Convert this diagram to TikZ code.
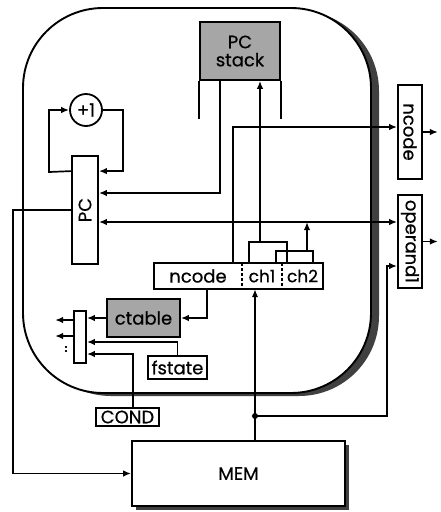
\documentclass[tikz,border=0pt]{standalone}
\usepackage{fontspec}
\usepackage{graphicx}
\setmainfont{Poppins}[FakeBold=0.6]
\usetikzlibrary{arrows.meta}

\tikzset{
  blk/.style={draw, line width=1.8pt, inner sep=0pt, font=\fontsize{18}{19}\selectfont},
  shaded/.style={blk, fill=black!35},
  field/.style={inner sep=0pt, minimum height=26, font=\fontsize{18}{19}\selectfont},
  wire/.style={line width=1.7pt},
  arr/.style={wire, -{Latex[length=8pt,width=6.5pt]}},
  darr/.style={wire, {Latex[length=8pt,width=6.5pt]}-{Latex[length=8pt,width=6.5pt]}},
}

\begin{document}
\begin{tikzpicture}[x=1pt,y=-1pt]
\useasboundingbox (0,0) rectangle (441,512);

% outer chip with shadow
\fill[black!75, rounded corners=80pt] (31,11) rectangle (379,396);
\draw[line width=1.9pt, fill=white, rounded corners=80pt] (23,8) rectangle (371,393);

% blocks
\node[shaded, minimum width=80, minimum height=58, align=center] (pcstack) at (240,51) {PC\\[-1pt]stack};
\node[blk, circle, minimum size=32] (plusone) at (86,110) {+1};
\node[blk, minimum width=26, minimum height=108] (pc) at (85,210) {\rotatebox{90}{PC}};

\node[field, minimum width=88] (ncf) at (198,276) {ncode};
\node[field, minimum width=40, font=\fontsize{17}{18}\selectfont] (ch1f) at (262,276) {ch1};
\node[field, minimum width=41, font=\fontsize{17}{18}\selectfont] (ch2f) at (302.5,276) {ch2};
\draw[wire] (ncf.north west) rectangle (ch2f.south east);
\draw[wire, dashed, dash pattern=on 3pt off 2pt] (ncf.north east) -- (ncf.south east);
\draw[wire, dashed, dash pattern=on 3pt off 2pt] (ch1f.north east) -- (ch1f.south east);

\node[shaded, minimum width=73, minimum height=38] (ctable) at (143.5,318) {ctable};
\node[blk, minimum width=12, minimum height=52] (mux) at (80,337) {};
\node[blk, minimum width=59, minimum height=23] (fstate) at (177.5,367.5) {fstate};
\node[blk, minimum width=63, minimum height=18] (cond) at (127.5,417) {COND};

\fill[black!75] (136,445) rectangle (349,510);
\node[blk, fill=white, minimum width=213, minimum height=65] (mem) at (238.5,473.5) {MEM};

\node[blk, minimum width=24, minimum height=94] (outncode) at (410,132) {\rotatebox{-90}{ncode}};
\node[blk, minimum width=24, minimum height=93] (outop) at (410,241.5) {\rotatebox{-90}{operand1}};

% PC and incrementer
\draw[arr] ([yshift=-16pt]pc.north west) -- (49,172) |- (plusone.west);
\draw[arr] (plusone.east) -- (123,110) |- ([yshift=-16pt]pc.north east);

% PC stack
\draw[wire] (pcstack.south west) -- ++(0,38);
\draw[wire] (pcstack.south east) -- ++(0,38);
\draw[arr] ([xshift=-20pt]pcstack.south) |- ([yshift=17pt]pc.east);

% channel fields
\coordinate (ch1top) at (260,242);
\coordinate (ch2top) at (307,251);
\draw[wire] ([xshift=7pt]ch1f.north west) -- ++(0,-21) -- ++(38,0) -- ++(0,21);
\draw[wire] ([xshift=-6pt]ch2f.north west) -- ++(0,-12) -- ++(37,0) -- ++(0,12);
\draw[arr] (ch1top) -- ([xshift=20pt]pcstack.south);
\draw[arr] (ch2top) -- (307,222);

% operand and ncode outputs
\draw[darr] ([yshift=-12pt]pc.east) -- ([yshift=19.5pt]outop.west);
\draw[arr] ([xshift=-9pt]ncf.north east) |- ([yshift=5pt]outncode.west);
\draw[arr] (outncode.east) -- ++(15,0);
\draw[arr] (outop.east) -- ++(15,0);

% memory
\coordinate (memtap) at (255,416);
\draw[arr] ([xshift=16.5pt]mem.north) -- ([xshift=-7pt]ch1f.south);
\fill (memtap) circle (3pt);
\draw[arr] (memtap) -- (387,416) |- ([yshift=-24.5pt]outop.west);
\draw[arr] (pc.west) -- (13,210) |- (mem.west);

% condition select
\draw[arr] ([xshift=9pt]ncf.south) |- (ctable.east);
\draw[arr] (ctable.west) -- (mux.east |- ctable.west);
\draw[arr] (fstate.north) |- ([yshift=-5pt]mux.east);
\draw[arr] ([xshift=5.5pt]cond.north) |- ([yshift=-17pt]mux.east);
\draw[arr] ([yshift=17pt]mux.west) -- ++(-18,0);
\draw[arr] ([yshift=1pt]mux.west) -- ++(-18,0);
\node[font=\bfseries] (muxdots) at (66,349) {:};

\end{tikzpicture}
\end{document}
